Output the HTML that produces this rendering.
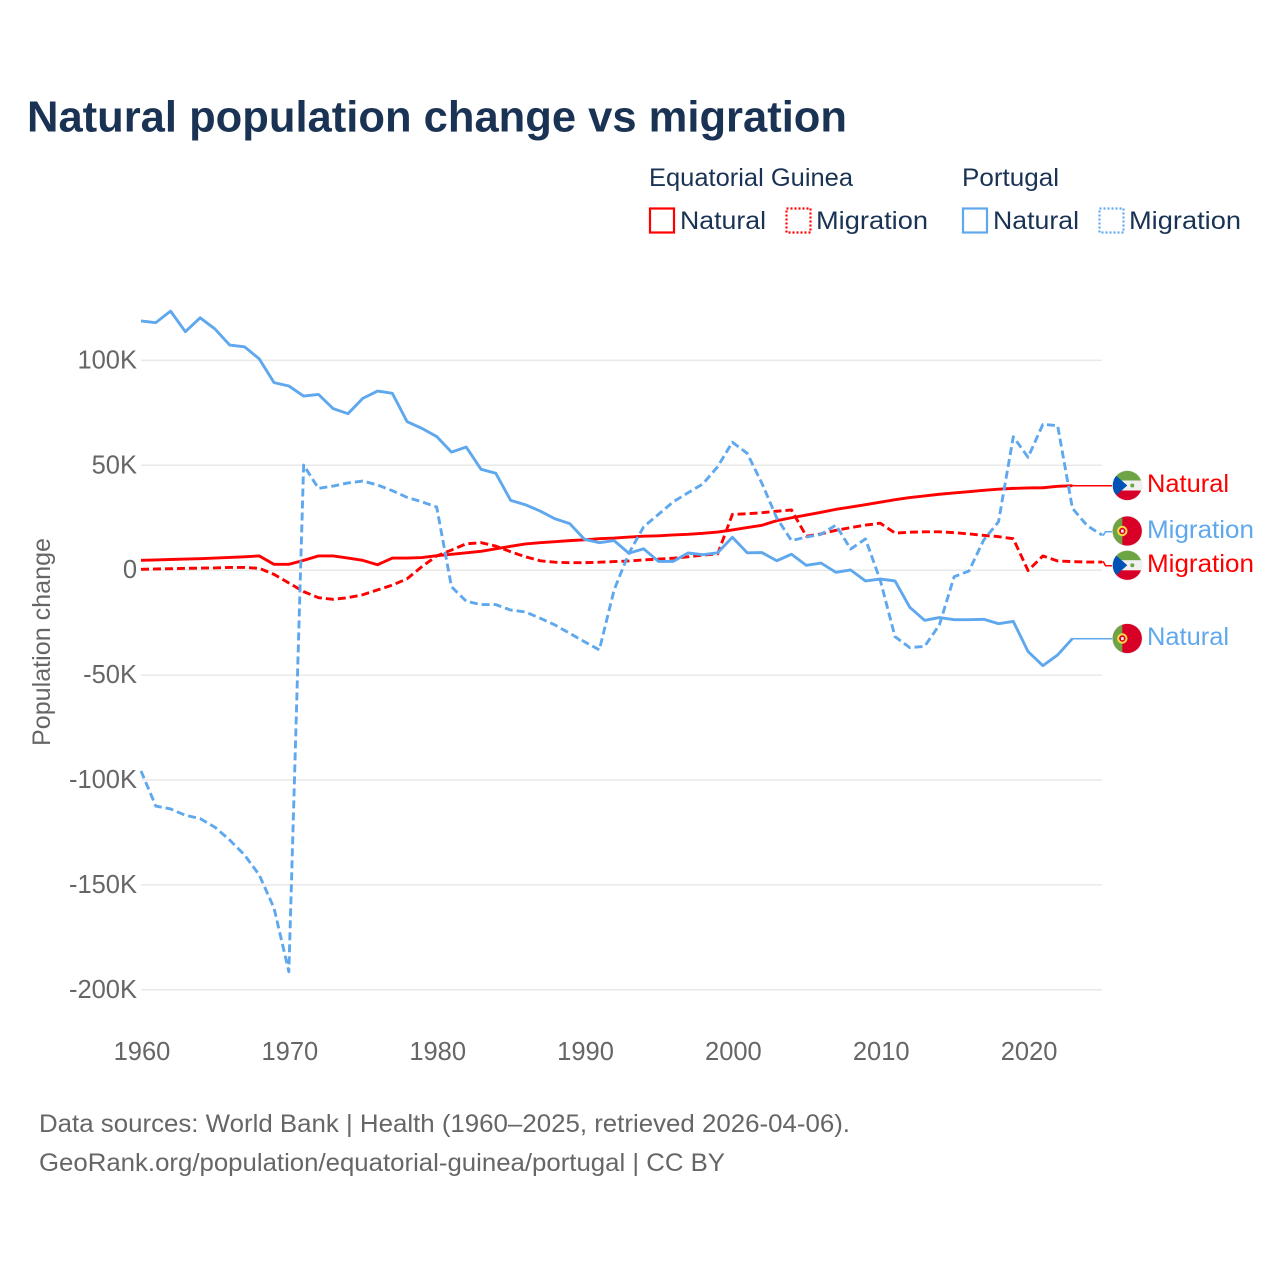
<!DOCTYPE html>
<html lang="en">
<head>
<meta charset="utf-8">
<title>Natural population change vs migration</title>
<style>
  html, body { margin: 0; padding: 0; background: #fff; }
  svg { display: block; font-family: "Liberation Sans", Arial, sans-serif; }
</style>
</head>
<body>
<svg id="chart" xmlns="http://www.w3.org/2000/svg" width="1280" height="1280" viewBox="0 0 1280 1280">
  <defs>
    <clipPath id="flag-clip"><circle cx="0" cy="0" r="14.6"></circle></clipPath>
  </defs>
  <rect x="0" y="0" width="1280" height="1280" fill="#ffffff"></rect>

  <text x="27" y="131.5" font-size="44" font-weight="700" fill="#1a3354" textLength="820" lengthAdjust="spacingAndGlyphs">Natural population change vs migration</text>

  <g font-size="25" fill="#1a3354">
    <text x="649" y="186" textLength="204" lengthAdjust="spacingAndGlyphs">Equatorial Guinea</text>
    <text x="962" y="186" textLength="97" lengthAdjust="spacingAndGlyphs">Portugal</text>

    <rect x="650" y="208.5" width="24" height="24" fill="none" stroke="#ff0000" stroke-width="2.2"></rect>
    <text x="680" y="229" textLength="86" lengthAdjust="spacingAndGlyphs">Natural</text>
    <rect x="786.5" y="208.5" width="24" height="24" fill="none" stroke="#ff0000" stroke-width="2.2" stroke-dasharray="2 2"></rect>
    <text x="816" y="229" textLength="112" lengthAdjust="spacingAndGlyphs">Migration</text>

    <rect x="963" y="208.5" width="24" height="24" fill="none" stroke="#5fa8ee" stroke-width="2.2"></rect>
    <text x="993" y="229" textLength="86" lengthAdjust="spacingAndGlyphs">Natural</text>
    <rect x="1099.5" y="208.5" width="24" height="24" fill="none" stroke="#5fa8ee" stroke-width="2.2" stroke-dasharray="2 2"></rect>
    <text x="1129" y="229" textLength="112" lengthAdjust="spacingAndGlyphs">Migration</text>
  </g>

  <text transform="translate(50,746) rotate(-90)" x="0" y="0" font-size="25" fill="#666666" textLength="208" lengthAdjust="spacingAndGlyphs">Population change</text>

  <g id="grid"></g>
  <g id="y-ticks" font-size="25.5" fill="#666666" text-anchor="end"></g>
  <g id="x-ticks" font-size="25.5" fill="#666666" text-anchor="middle"></g>
  <g id="connectors"></g>
  <g id="series"></g>

  <g transform="translate(1127.3,485.5)">
    <circle cx="0" cy="0" r="15.4" fill="#f0f0f0"></circle>
    <g clip-path="url(#flag-clip)">
      <rect x="-15" y="-15" width="30" height="10" fill="#6da544"></rect>
      <rect x="-15" y="-5" width="30" height="10" fill="#f0f0f0"></rect>
      <rect x="-15" y="5" width="30" height="10" fill="#d80027"></rect>
      <polygon points="-17,-15 0,0 -17,15" fill="#0052b4"></polygon>
      <circle cx="5" cy="0" r="2" fill="#6da544"></circle>
    </g>
  </g>
  <g transform="translate(1127.3,531)">
    <circle cx="0" cy="0" r="15.4" fill="#f0f0f0"></circle>
    <g clip-path="url(#flag-clip)">
      <rect x="-15" y="-15" width="30" height="30" fill="#d80027"></rect>
      <rect x="-15" y="-15" width="10" height="30" fill="#6da544"></rect>
      <circle cx="-5" cy="0" r="4.2" fill="#d80027" stroke="#ffda44" stroke-width="2"></circle>
      <rect x="-6.2" y="-1.4" width="2.6" height="3" fill="#f0f0f0"></rect>
    </g>
  </g>
  <g transform="translate(1127.3,565.3)">
    <circle cx="0" cy="0" r="15.4" fill="#f0f0f0"></circle>
    <g clip-path="url(#flag-clip)">
      <rect x="-15" y="-15" width="30" height="10" fill="#6da544"></rect>
      <rect x="-15" y="-5" width="30" height="10" fill="#f0f0f0"></rect>
      <rect x="-15" y="5" width="30" height="10" fill="#d80027"></rect>
      <polygon points="-17,-15 0,0 -17,15" fill="#0052b4"></polygon>
      <circle cx="5" cy="0" r="2" fill="#6da544"></circle>
    </g>
  </g>
  <g transform="translate(1127.3,638.5)">
    <circle cx="0" cy="0" r="15.4" fill="#f0f0f0"></circle>
    <g clip-path="url(#flag-clip)">
      <rect x="-15" y="-15" width="30" height="30" fill="#d80027"></rect>
      <rect x="-15" y="-15" width="10" height="30" fill="#6da544"></rect>
      <circle cx="-5" cy="0" r="4.2" fill="#d80027" stroke="#ffda44" stroke-width="2"></circle>
      <rect x="-6.2" y="-1.4" width="2.6" height="3" fill="#f0f0f0"></rect>
    </g>
  </g>

  <g font-size="25">
    <text x="1147" y="492" fill="#ff0000" textLength="82" lengthAdjust="spacingAndGlyphs">Natural</text>
    <text x="1147" y="538" fill="#5fa8ee" textLength="107" lengthAdjust="spacingAndGlyphs">Migration</text>
    <text x="1147" y="572" fill="#ff0000" textLength="107" lengthAdjust="spacingAndGlyphs">Migration</text>
    <text x="1147" y="645" fill="#5fa8ee" textLength="82" lengthAdjust="spacingAndGlyphs">Natural</text>
  </g>

  <g font-size="25" fill="#666666">
    <text x="39" y="1132" textLength="811" lengthAdjust="spacingAndGlyphs">Data sources: World Bank | Health (1960–2025, retrieved 2026-04-06).</text>
    <text x="39" y="1171" textLength="686" lengthAdjust="spacingAndGlyphs">GeoRank.org/population/equatorial-guinea/portugal | CC BY</text>
  </g>
</svg>

<script>
const startYear = 1960;
const yTickValues = [100, 50, 0, -50, -100, -150, -200];
const yTickLabels = ["100K", "50K", "0", "-50K", "-100K", "-150K", "-200K"];
const xTickValues = [1960, 1970, 1980, 1990, 2000, 2010, 2020];
const xTickLabels = ["1960", "1970", "1980", "1990", "2000", "2010", "2020"];

// All series are in thousands of people, one value per year from 1960.
// Natural change runs to 2023, migration to 2025.
const egNatural = [
  4.7, 4.9, 5.1, 5.3, 5.5, 5.8, 6.1, 6.4, 6.8, 2.8,
  2.8, 4.7, 6.8, 6.8, 5.8, 4.7, 2.6, 5.8, 5.8, 6.0,
  6.9, 7.6, 8.3, 9.0, 10.2, 11.4, 12.5, 13.1, 13.6, 14.1,
  14.5, 15.0, 15.3, 15.8, 16.2, 16.4, 16.8, 17.1, 17.6, 18.2,
  19.2, 20.3, 21.4, 23.6, 25.0, 26.3, 27.6, 29.0, 30.1, 31.2,
  32.4, 33.6, 34.6, 35.4, 36.2, 36.8, 37.4, 38.1, 38.6, 39.0,
  39.2, 39.3, 40.0, 40.3
];
const egMigration = [
  0.4, 0.6, 0.7, 0.9, 1.0, 1.1, 1.3, 1.3, 0.9, -2.0,
  -6.1, -10.2, -13.1, -13.9, -13.1, -11.7, -9.4, -7.1, -4.1, 1.7,
  6.8, 9.6, 12.6, 13.1, 11.5, 8.8, 6.4, 4.5, 3.8, 3.6,
  3.6, 3.8, 4.1, 4.4, 4.9, 5.3, 5.7, 6.4, 7.2, 7.7,
  26.6, 26.9, 27.4, 28.1, 28.7, 16.2, 17.3, 19.0, 20.3, 21.5,
  22.4, 17.7, 18.1, 18.3, 18.3, 17.9, 17.3, 16.6, 16.0, 15.0,
  -0.2, 6.8, 4.4, 4.1, 3.9, 3.9
];
const ptNatural = [
  118.8, 118.0, 123.5, 113.7, 120.3, 115.0, 107.3, 106.5, 100.7, 89.4,
  87.8, 83.0, 83.8, 77.0, 74.6, 81.9, 85.4, 84.3, 70.8, 67.6,
  63.7, 56.3, 58.7, 48.1, 46.2, 33.3, 31.2, 28.2, 24.5, 22.2,
  14.7, 13.1, 14.1, 8.1, 10.2, 4.2, 4.2, 8.2, 7.4, 8.3,
  15.7, 8.3, 8.4, 4.5, 7.6, 2.3, 3.4, -1.0, 0.1, -5.1,
  -4.2, -5.1, -17.7, -23.9, -22.6, -23.6, -23.6, -23.4, -25.5, -24.4,
  -38.8, -45.5, -40.4, -32.6
];
const ptMigration = [
  -95.7, -112.4, -113.8, -116.8, -118.4, -122.5, -128.6, -135.7, -145.3, -161.1,
  -191.4, 50.1, 39.0, 40.1, 41.6, 42.5, 40.6, 37.9, 34.7, 32.6,
  30.1, -7.9, -14.8, -16.4, -16.4, -19.0, -19.9, -22.9, -26.1, -30.1,
  -34.1, -38.0, -9.4, 8.1, 20.7, 26.6, 32.6, 36.9, 41.1, 49.3,
  61.0, 55.7, 41.4, 24.9, 14.1, 15.8, 17.1, 21.5, 10.1, 14.9,
  -4.7, -31.7, -36.9, -36.3, -26.1, -3.1, -0.4, 14.4, 23.1, 63.6,
  53.8, 69.5, 68.9, 29.5, 21.2, 16.8
];

const SVG_NS = "http://www.w3.org/2000/svg";
const RED = "#ff0000";
const BLUE = "#5fa8ee";
const PLOT_LEFT = 141;
const PLOT_RIGHT = 1102;
const YEAR_PX = (PLOT_RIGHT - PLOT_LEFT) / 65;
const ZERO_Y = 570.2;
const THOUSAND_PX = 2.098;

function xScale(year) { return PLOT_LEFT + (year - startYear) * YEAR_PX; }
function yScale(value) { return ZERO_Y - value * THOUSAND_PX; }
function make(tag, parentId) {
  const el = document.createElementNS(SVG_NS, tag);
  document.getElementById(parentId).appendChild(el);
  return el;
}
function linePath(values) {
  return values.map(function (v, i) {
    return (i === 0 ? "M" : "L") + xScale(startYear + i).toFixed(2) + "," + yScale(v).toFixed(2);
  }).join(" ");
}

yTickValues.forEach(function (v, i) {
  const grid = make("line", "grid");
  
  
  grid.setAttribute("x1", PLOT_LEFT);
  grid.setAttribute("x2", PLOT_RIGHT);
  grid.setAttribute("y1", yScale(v));
  grid.setAttribute("y2", yScale(v));
  grid.setAttribute("stroke", "#e9e9e9");
  grid.setAttribute("stroke-width", "1.5");

  const label = make("text", "y-ticks");
  
  
  label.setAttribute("x", 137);
  label.setAttribute("y", yScale(v) + 8);
  label.textContent = yTickLabels[i];
});

xTickValues.forEach(function (year, i) {
  const label = make("text", "x-ticks");
  
  
  label.setAttribute("x", xScale(year) + 1);
  label.setAttribute("y", 1060);
  label.textContent = xTickLabels[i];
});

function addConnector(values, flagY, color) {
  const endX = xScale(startYear + values.length - 1);
  const endY = yScale(values[values.length - 1]);
  const path = make("path", "connectors");
  
  
  path.setAttribute("d", "M" + endX.toFixed(2) + "," + endY.toFixed(2) + " L" + (endX + 1.5).toFixed(2) + "," + endY.toFixed(2) + " L" + (endX + 3.5).toFixed(2) + "," + flagY + " L1112," + flagY);
  path.setAttribute("fill", "none");
  path.setAttribute("stroke", color);
  path.setAttribute("stroke-width", "1.5");
}
addConnector(egNatural, 485.7, RED);
addConnector(egMigration, 565.7, RED);
addConnector(ptNatural, 638.7, BLUE);
addConnector(ptMigration, 531.7, BLUE);

function addSeries(values, color, dashed, width) {
  const path = make("path", "series");
  
  
  path.setAttribute("d", linePath(values));
  path.setAttribute("fill", "none");
  path.setAttribute("stroke", color);
  path.setAttribute("stroke-width", width);
  path.setAttribute("stroke-linejoin", "round");
  if (dashed) { path.setAttribute("stroke-dasharray", "8 4"); }
}
addSeries(egNatural, RED, false, 2.9);
addSeries(egMigration, RED, true, 2.9);
addSeries(ptNatural, BLUE, false, 2.9);
addSeries(ptMigration, BLUE, true, 2.9);
</script>
</body>
</html>
